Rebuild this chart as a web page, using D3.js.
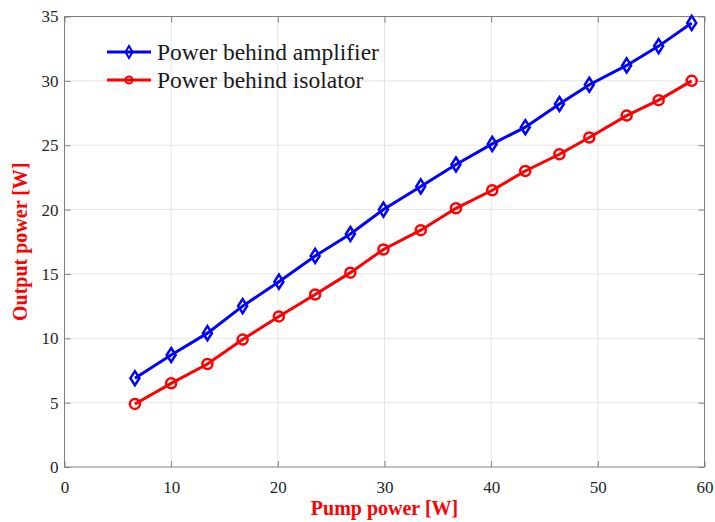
<!DOCTYPE html>
<html>
<head>
<meta charset="utf-8">
<script src="https://cdn.jsdelivr.net/npm/d3@7"></script>
<style>
  body { margin: 0; background: #fff; }
  svg { display: block; font-family: "Liberation Serif", "Times New Roman", serif; }
</style>
</head>
<body>
<div id="chart"></div>
<script>
// data
var pump = [6.6, 10.0, 13.4, 16.7, 20.1, 23.5, 26.8, 29.9, 33.4, 36.7, 40.1, 43.2, 46.4, 49.2, 52.7, 55.7, 58.8];
var amplifier = [6.9, 8.7, 10.4, 12.5, 14.4, 16.4, 18.1, 20.0, 21.8, 23.5, 25.1, 26.4, 28.2, 29.7, 31.2, 32.7, 34.5];
var isolator = [4.9, 6.5, 8.0, 9.9, 11.7, 13.4, 15.1, 16.9, 18.4, 20.1, 21.5, 23.0, 24.3, 25.6, 27.3, 28.5, 30.0];
var xTicks = [0, 10, 20, 30, 40, 50, 60];
var yTicks = [0, 5, 10, 15, 20, 25, 30, 35];
var seriesNames = ['Power behind amplifier', 'Power behind isolator'];

var W = 715, H = 522;
var margin = {top: 16.5, left: 64.5, right: 10.5, bottom: 55};
var width = W - margin.left - margin.right;
var height = H - margin.top - margin.bottom;

var svg = d3.select('#chart')
    .append('svg')
    .attr('width', W)
    .attr('height', H);

var g = svg.append('g')
    .attr('transform', 'translate(' + margin.left + ',' + margin.top + ')');

var x = d3.scaleLinear().domain([0, 60]).range([0, width]);
var y = d3.scaleLinear().domain([0, 35]).range([height, 0]);

// grid
g.append('g')
    .selectAll('line.vg')
    .data(xTicks.slice(1, -1))
    .enter().append('line')
    .attr('x1', function(d) { return x(d) }).attr('x2', function(d) { return x(d) })
    .attr('y1', 0).attr('y2', height)
    .attr('stroke', '#e6e6e6').attr('stroke-width', 1);

g.append('g')
    .selectAll('line.hg')
    .data(yTicks.slice(1, -1))
    .enter().append('line')
    .attr('y1', function(d) { return y(d) }).attr('y2', function(d) { return y(d) })
    .attr('x1', 0).attr('x2', width)
    .attr('stroke', '#e6e6e6').attr('stroke-width', 1);

// axes
var axisColor = '#808080';
function styleAxis(sel) {
    sel.select('.domain').remove();
    sel.selectAll('.tick line').attr('stroke', axisColor);
    sel.selectAll('.tick text')
        .attr('fill', '#262626')
        .style('font-size', '17px')
        .style('font-family', '"Liberation Serif", serif');
}

g.append('g')
    .attr('transform', 'translate(0,' + height + ')')
    .call(d3.axisBottom(x).tickValues(xTicks).tickSize(-6).tickPadding(14))
    .call(styleAxis);

g.append('g')
    .call(d3.axisTop(x).tickValues(xTicks).tickSize(-6).tickFormat(''))
    .call(styleAxis);

g.append('g')
    .call(d3.axisLeft(y).tickValues(yTicks).tickSize(-6).tickPadding(6))
    .call(styleAxis);

g.append('g')
    .attr('transform', 'translate(' + width + ',0)')
    .call(d3.axisRight(y).tickValues(yTicks).tickSize(-6).tickFormat(''))
    .call(styleAxis);

g.append('rect')
    .attr('width', width).attr('height', height)
    .attr('fill', 'none')
    .attr('stroke', axisColor)
    .attr('stroke-width', 1);

// series
var line = d3.line()
    .x(function(d) { return x(d[0]) })
    .y(function(d) { return y(d[1]) });

var diamond = 'M0,-7L4.5,0L0,7L-4.5,0Z';

function drawSeries(vals, color, marker) {
    var pts = pump.map(function(p, i) { return [p, vals[i]] });
    g.append('path')
        .datum(pts)
        .attr('d', line)
        .attr('fill', 'none')
        .attr('stroke', color)
        .attr('stroke-width', 3);
    var m = g.append('g').selectAll('.m')
        .data(pts)
        .enter();
    if (marker == 'diamond') {
        m.append('path')
            .attr('d', diamond)
            .attr('transform', function(d) { return 'translate(' + x(d[0]) + ',' + y(d[1]) + ')' })
            .attr('fill', 'none')
            .attr('stroke', color)
            .attr('stroke-width', 2.5);
    } else {
        m.append('circle')
            .attr('cx', function(d) { return x(d[0]) })
            .attr('cy', function(d) { return y(d[1]) })
            .attr('r', 5)
            .attr('fill', 'none')
            .attr('stroke', color)
            .attr('stroke-width', 2.5);
    }
}

drawSeries(amplifier, '#0000ff', 'diamond');
drawSeries(isolator, '#ff0000', 'circle');

// legend
var legend = svg.append('g');
var legendItems = [
    {name: seriesNames[0], color: '#0000ff', marker: 'diamond', y: 52},
    {name: seriesNames[1], color: '#ff0000', marker: 'circle', y: 80}
];
legendItems.forEach(function(d) {
    legend.append('line')
        .attr('x1', 107).attr('x2', 151)
        .attr('y1', d.y).attr('y2', d.y)
        .attr('stroke', d.color).attr('stroke-width', 3);
    if (d.marker == 'diamond') {
        legend.append('path')
            .attr('d', 'M0,-6L3.5,0L0,6L-3.5,0Z')
            .attr('transform', 'translate(129,' + d.y + ')')
            .attr('fill', 'none').attr('stroke', d.color).attr('stroke-width', 2);
    } else {
        legend.append('circle')
            .attr('cx', 129).attr('cy', d.y).attr('r', 3.5)
            .attr('fill', 'none').attr('stroke', d.color).attr('stroke-width', 2);
    }
    legend.append('text')
        .attr('x', 157).attr('y', d.y + 8)
        .attr('fill', '#1a1a1a')
        .style('font-size', '23.5px')
        .text(d.name);
});

// axis labels
svg.append('text')
    .attr('x', margin.left + width / 2).attr('y', 515)
    .attr('text-anchor', 'middle')
    .attr('fill', '#ff0000')
    .style('font-size', '20px').style('font-weight', 'bold')
    .text('Pump power [W]');

svg.append('text')
    .attr('transform', 'translate(27,' + (margin.top + height / 2) + ') rotate(-90)')
    .attr('text-anchor', 'middle')
    .attr('fill', '#ff0000')
    .style('font-size', '20px').style('font-weight', 'bold')
    .text('Output power [W]');
</script>
</body>
</html>
